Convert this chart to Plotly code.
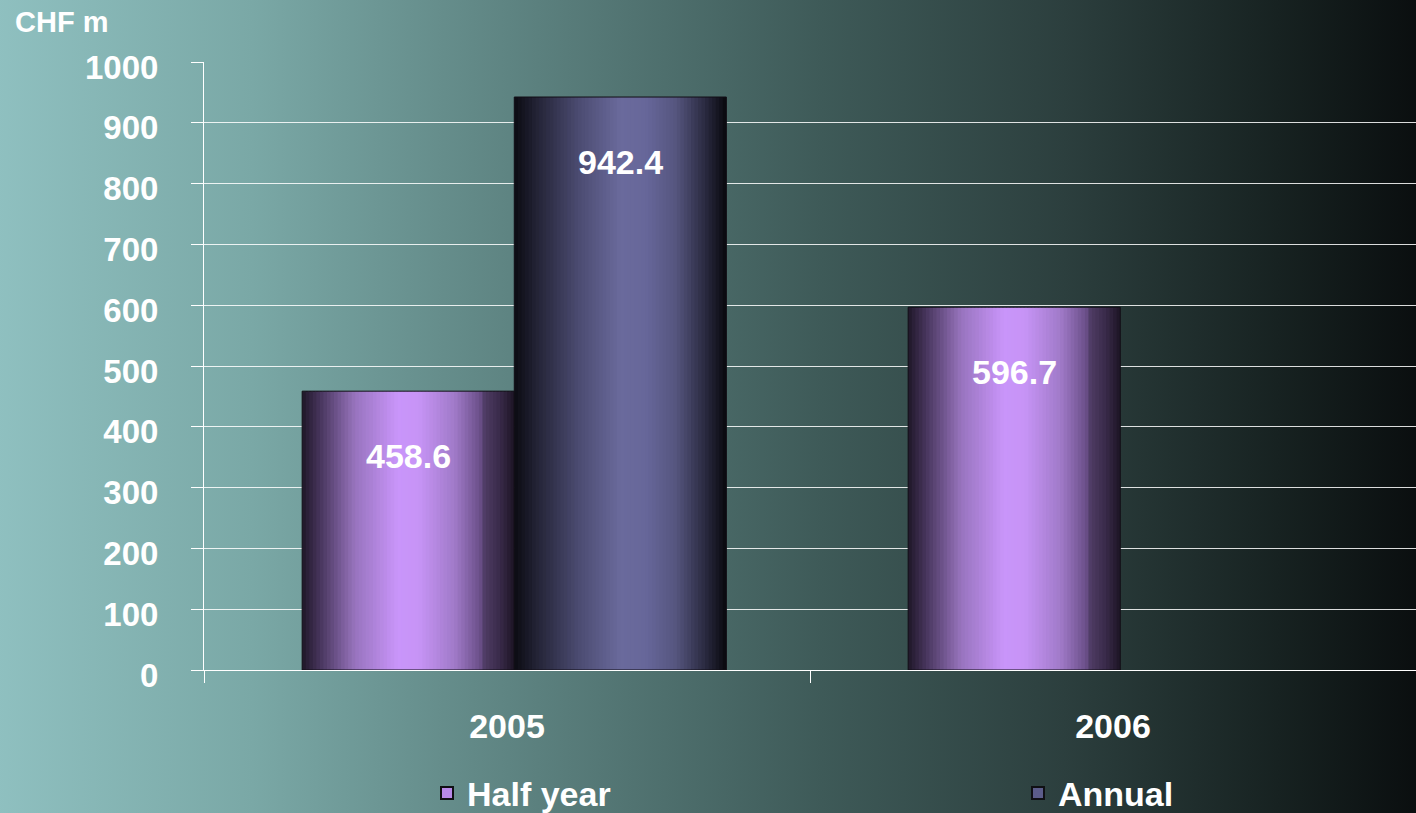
import base64
import plotly.graph_objects as go
from plotly.colors import sample_colorscale

# ---- data ----
years = ["2005", "2006"]
half_year = [458.6, 596.7]
annual = [942.4, None]
series_names = ["Half year", "Annual"]
y_ticks = list(range(0, 1001, 100))

# ---- styling ----
FONT = "Liberation Sans, Arial, sans-serif"
BAR_W = 0.35          # bar width in category units
N_STRIPS = 60         # vertical strips used to shade each bar like a cylinder

half_scale = [
    [0.00, "#1f1728"], [0.08, "#45345a"], [0.25, "#9874be"], [0.45, "#c995fa"],
    [0.55, "#c794f6"], [0.72, "#a07ac8"], [0.84, "#6a4f88"], [0.86, "#4e3b64"],
    [0.93, "#3a2b4a"], [1.00, "#1c1424"],
]
annual_scale = [
    [0.00, "#0b0b12"], [0.10, "#222234"], [0.30, "#4b4b70"], [0.50, "#6a6a9c"],
    [0.62, "#67679a"], [0.76, "#56567f"], [0.90, "#2a2a40"], [1.00, "#08080d"],
]

fig = go.Figure()


def add_shaded_series(name, values, scale, offset, legend_color, legend_id):
    t = [(i + 0.5) / N_STRIPS for i in range(N_STRIPS)]
    colors = sample_colorscale(scale, t)
    step = BAR_W / N_STRIPS
    for i, c in enumerate(colors):
        w = step if i == N_STRIPS - 1 else step * 1.6
        fig.add_trace(go.Bar(
            x=years, y=values, offset=offset + i * step, width=w,
            marker=dict(color=c, line=dict(width=0)),
            showlegend=False, hoverinfo="skip",
        ))
    # outline
    fig.add_trace(go.Bar(
        x=years, y=values, offset=offset, width=BAR_W, name=name,
        marker=dict(color="rgba(0,0,0,0)", line=dict(color="#120e16", width=1)),
        showlegend=False, hoverinfo="x+y",
    ))
    # legend entry
    fig.add_trace(go.Bar(
        x=[None], y=[None], name=name, legend=legend_id,
        marker=dict(color=legend_color, line=dict(color="#101014", width=2)),
        showlegend=True,
    ))


HALF_OFF, ANN_OFF = -0.338, 0.012
add_shaded_series(series_names[0], half_year, half_scale, HALF_OFF, "#b888e8", "legend")
add_shaded_series(series_names[1], annual, annual_scale, ANN_OFF, "#5c5c8a", "legend2")

# value labels inside the top of each bar
for vals, off in ((half_year, HALF_OFF + BAR_W / 2), (annual, ANN_OFF + BAR_W / 2)):
    for i, v in enumerate(vals):
        if v is None:
            continue
        fig.add_annotation(
            x=i + off, y=v, yshift=-65, text=f"{v:.1f}", showarrow=False,
            font=dict(family=FONT, size=34, color="white", weight="bold"),
        )

# unit label
fig.add_annotation(
    xref="paper", yref="paper", x=-0.1576, y=1.066, xanchor="left", yanchor="middle",
    text="CHF m", showarrow=False,
    font=dict(family=FONT, size=29, color="white", weight="bold"),
)

# background: horizontal teal-to-black gradient
svg = """<svg xmlns='http://www.w3.org/2000/svg' width='1416' height='813' preserveAspectRatio='none'>
<defs><linearGradient id='g' x1='0' y1='0' x2='1' y2='0'>
<stop offset='0' stop-color='#8fc0c0'/>
<stop offset='0.18' stop-color='#7aa8a6'/>
<stop offset='0.38' stop-color='#5b807e'/>
<stop offset='0.58' stop-color='#3e5a58'/>
<stop offset='0.75' stop-color='#2c3f3e'/>
<stop offset='0.9' stop-color='#172221'/>
<stop offset='1' stop-color='#0a0e0f'/>
</linearGradient></defs>
<rect width='1416' height='813' fill='url(#g)'/></svg>"""
bg_src = "data:image/svg+xml;base64," + base64.b64encode(svg.encode()).decode()

L, R, T, B = 204, 0, 62, 143
PW, PH = 1416 - L - R, 813 - T - B
fig.add_layout_image(
    source=bg_src, xref="paper", yref="paper",
    x=-(L + 4) / PW, y=1 + (T + 4) / PH, sizex=(1416 + 8) / PW, sizey=(813 + 8) / PH,
    xanchor="left", yanchor="top", sizing="stretch", layer="below",
)

legend_style = dict(
    orientation="h", xref="container", yref="container", yanchor="middle",
    xanchor="left", y=0.024,
    font=dict(family=FONT, size=34, color="white", weight="bold"),
    bgcolor="rgba(0,0,0,0)",
)

fig.update_layout(
    width=1416, height=813,
    margin=dict(l=L, r=R, t=T, b=B, pad=0, autoexpand=False),
    barmode="overlay",
    paper_bgcolor="#2c3f3e", plot_bgcolor="rgba(0,0,0,0)",
    font=dict(family=FONT, color="white", size=34, weight="bold"),
    showlegend=True,
    legend=dict(legend_style, x=427 / 1416),
    legend2=dict(legend_style, x=1018 / 1416),
    xaxis=dict(
        type="category", range=[-0.5, 1.5], tickson="boundaries",
        ticks="outside", ticklen=12, tickcolor="white", tickwidth=1,
        showline=True, linecolor="white", linewidth=1,
        showgrid=False, ticklabelstandoff=26,
        tickfont=dict(family=FONT, size=34, color="white", weight="bold"),
    ),
    yaxis=dict(
        range=[0, 1000], tickvals=y_ticks, ticktext=[str(v) for v in y_ticks],
        ticks="outside", ticklen=12, tickcolor="white", tickwidth=1,
        showline=True, linecolor="white", linewidth=1,
        showgrid=True, gridcolor="rgba(255,255,255,0.85)", gridwidth=1,
        zeroline=False, ticklabelstandoff=26, ticklabelshift=5,
        tickfont=dict(family=FONT, size=33, color="white", weight="bold"),
    ),
)

fig.write_html("out.html")
